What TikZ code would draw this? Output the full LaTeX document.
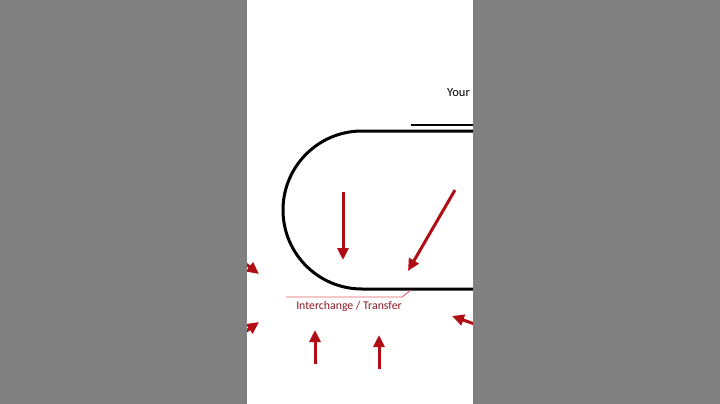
\documentclass[tikz,border=0pt]{standalone}
\usepackage{fontspec}
\setmainfont{Carlito}
\usetikzlibrary{arrows.meta}
\definecolor{slidegray}{RGB}{128,128,128}
\definecolor{arwred}{RGB}{176,14,20}
\definecolor{callred}{RGB}{140,24,36}
\definecolor{callpink}{RGB}{222,96,108}
\newcommand{\redarw}{-{Triangle[length=12pt,width=11pt]}}

\begin{document}
\begin{tikzpicture}[x=1pt,y=-1pt]
\useasboundingbox (0,0) rectangle (720,404);
\fill[white] (0,0) rectangle (720,404);
%title and rule
\node[anchor=base west,inner sep=0pt,font=\fontsize{12.5}{14}\selectfont] (your) at (447,96) {Your};
\draw[line width=1.3pt] (411,125) -- (480,125);
%track
\draw[line width=3pt] (480,131) -- (362,131) arc (270:90:79) -- (480,289);
%arrows inside
\coordinate (a1) at (343,192); \coordinate (b1) at (343,260);
\coordinate (a2) at (455,190); \coordinate (b2) at (408,271);
\draw[arwred,line width=3pt,\redarw] (a1) -- (b1);
\draw[arwred,line width=3pt,\redarw] (a2) -- (b2);
%arrows outside
\coordinate (a3) at (238,258); \coordinate (b3) at (259,274);
\coordinate (a4) at (238,337); \coordinate (b4) at (259,322);
\coordinate (a5) at (315,364); \coordinate (b5) at (315,330);
\coordinate (a6) at (379,369); \coordinate (b6) at (379,335);
\coordinate (a7) at (480,326); \coordinate (b7) at (452,316);
\draw[arwred,line width=3pt,\redarw] (a3) -- (b3);
\draw[arwred,line width=3pt,\redarw] (a4) -- (b4);
\draw[arwred,line width=3pt,\redarw] (a5) -- (b5);
\draw[arwred,line width=3pt,\redarw] (a6) -- (b6);
\draw[arwred,line width=3pt,\redarw] (a7) -- (b7);
%callout
\coordinate (c1) at (286,297); \coordinate (c2) at (402,297); \coordinate (c3) at (411,290);
\draw[callpink,line width=0.9pt] (c1) -- (c2) -- (c3);
\node[callred,inner sep=0pt,font=\fontsize{11.8}{14}\selectfont] (lbl) at (349,306.5) {Interchange / Transfer};
%side bars
\fill[slidegray] (0,0) rectangle (247,404);
\fill[slidegray] (473,0) rectangle (720,404);
\end{tikzpicture}
\end{document}
